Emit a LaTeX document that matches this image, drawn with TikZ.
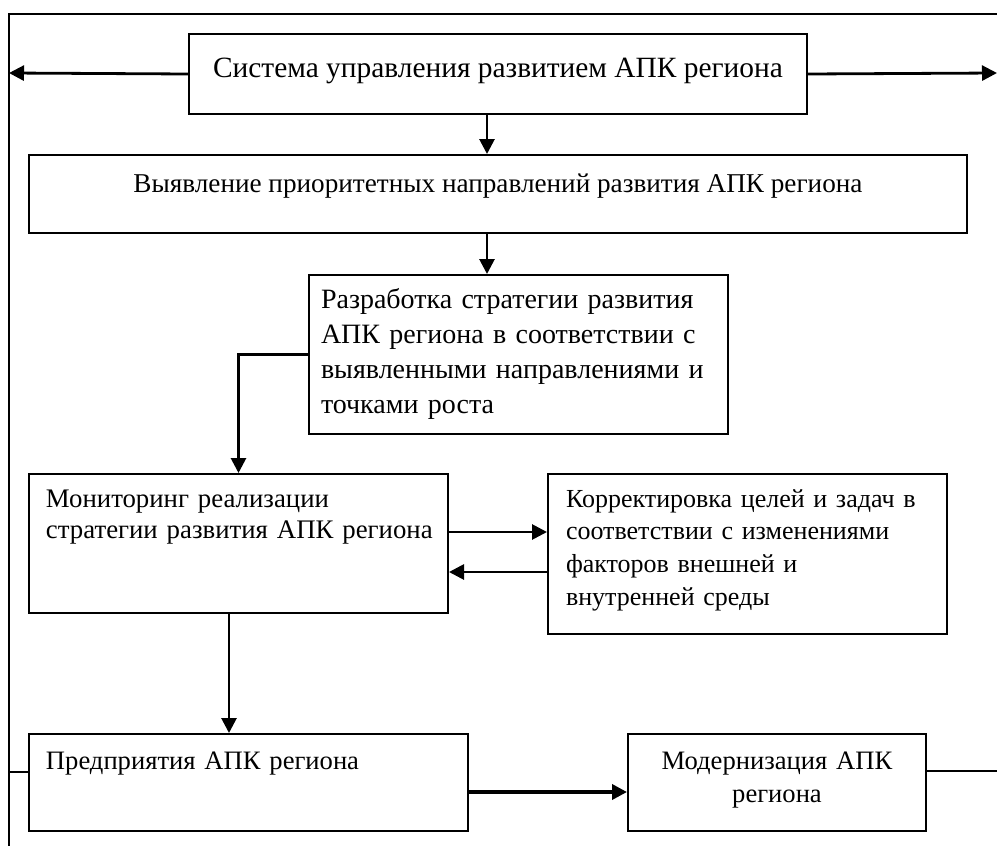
\documentclass[tikz,border=0pt]{standalone}
\usepackage{fontspec}
\setmainfont{Liberation Serif}
\usetikzlibrary{arrows.meta}

\begin{document}
\begin{tikzpicture}[x=0.5pt,y=-0.5pt,
  box/.style={draw, line width=1pt, anchor=north west, inner xsep=8pt, inner ysep=0pt},
  topbox/.style={box, align=left, text height=16.5pt, text depth=#1},
  fsz/.style 2 args={font=\fontsize{#1}{#2}\selectfont},
  arr/.style={line width=1.4pt, -{Triangle[length=7.5pt,width=7.5pt]}},
  frame/.style={line width=1.3pt}]
\useasboundingbox (0,0) rectangle (997,846);

% outer frame
\coordinate (ftl) at (9,14);
\coordinate (ftr) at (997,14);
\coordinate (fbl) at (9,846);
\draw[frame] (ftr) -- (ftl) -- (fbl);

% boxes
\node[topbox=18.5pt, text height=21.5pt, align=center, minimum width=309pt, fsz={14.7pt}{16pt}] (sys) at (188,33)
    {Система управления развитием АПК региона};
\node[topbox=20.5pt, text height=18.5pt, align=center, minimum width=469pt, fsz={13.6pt}{16pt}] (prio) at (28,154)
    {Выявление приоритетных направлений развития АПК региона};
\node[topbox=63pt, inner xsep=6pt, text width=197.5pt, fsz={14pt}{17.5pt}] (strat) at (308,274)
    {Разработка стратегии развития\\АПК региона в соответствии с\\выявленными направлениями и\\точками роста};
\node[topbox=53pt, inner xsep=8.5pt, text width=192.5pt, fsz={13.4pt}{15.8pt}] (mon) at (28,473)
    {Мониторинг реализации\\стратегии~развития~АПК~региона};
\node[topbox=63.5pt, inner xsep=9pt, text width=181.5pt, fsz={13pt}{16.4pt}] (corr) at (547,473)
    {Корректировка целей и задач в\\соответствии с изменениями\\факторов внешней и\\внутренней среды};
\node[topbox=31pt, text height=17.5pt, inner xsep=8.5pt, text width=202.5pt, fsz={13.3pt}{16pt}] (ent) at (28,733)
    {Предприятия АПК региона};
\node[topbox=31pt, text height=17.5pt, align=center, text width=133pt, fsz={13.3pt}{16.5pt}] (mod) at (627,733)
    {Модернизация АПК\\региона};

% connectors
\coordinate (sl) at (9,73);
\coordinate (sr) at (997,73);
\draw[arr] (sys.west) -- (sl);
\draw[arr] (sys.east) -- (sr);

\coordinate (ax) at (487,0);
\draw[arr] (sys.south -| ax) -- (prio.north -| ax);
\draw[arr] (prio.south -| ax) -- (strat.north -| ax);
\draw[arr] (strat.west) -| (mon.north);

\coordinate (r1) at (0,532);
\coordinate (r2) at (0,572);
\draw[arr] (mon.east |- r1) -- (corr.west |- r1);
\draw[arr] (corr.west |- r2) -- (mon.east |- r2);

\coordinate (dx) at (229,0);
\draw[arr] (mon.south -| dx) -- (ent.north -| dx);

\coordinate (r3) at (0,792);
\draw[arr, line width=1.8pt] (ent.east |- r3) -- (mod.west |- r3);

\coordinate (fl) at (9,772);
\coordinate (fr) at (997,771);
\draw[line width=1pt] (fl) -- (ent.west |- fl);
\draw[line width=1pt] (mod.east |- fr) -- (fr);
\end{tikzpicture}
\end{document}
